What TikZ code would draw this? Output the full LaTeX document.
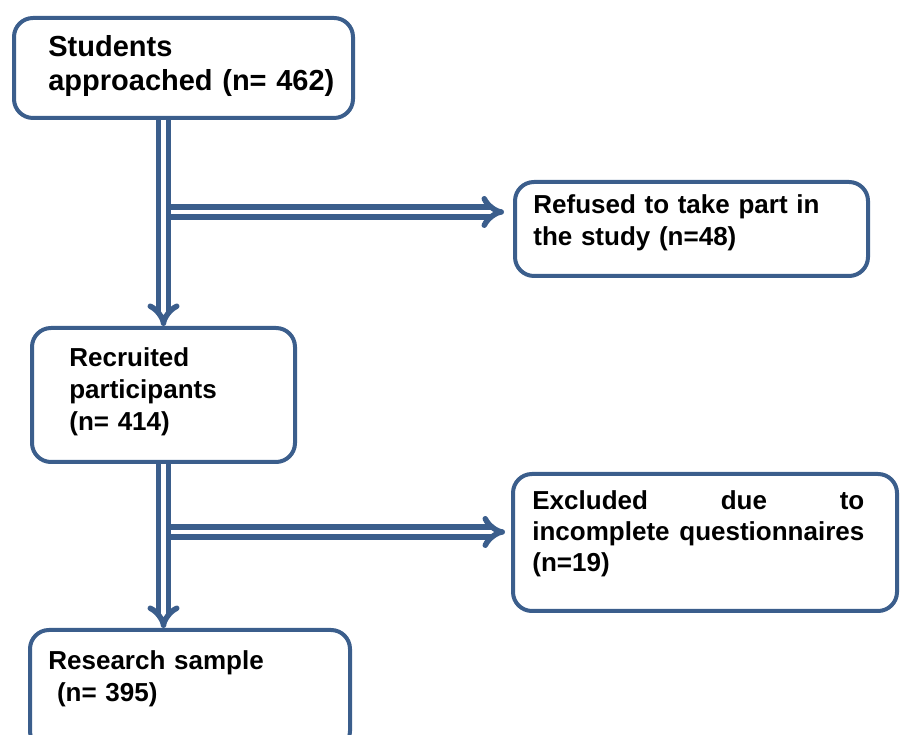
\documentclass[tikz,border=0pt]{standalone}
\usepackage{fontspec}
\setmainfont{Liberation Sans}
\usepackage{tikz}
\usetikzlibrary{arrows.meta}
\definecolor{flowblue}{RGB}{59,94,140}

\begin{document}
\begin{tikzpicture}
    \tikzstyle{box}=[draw=flowblue, line width=0.08cm, rounded corners=0.38cm, inner sep=0pt]
    \tikzstyle{txt}=[anchor=base west, inner sep=0pt, align=left, font=\bfseries\fontsize{14.8}{18.2}\selectfont]
    \tikzstyle{flow}=[draw=flowblue, line width=0.11cm, double=white, double distance=0.09cm, -{Implies}]

    \useasboundingbox (0, 0) rectangle (18.02, 14.7);

    % Boxes
	\node[box, minimum width=6.78cm, minimum height=2.0cm] (approached) at (3.67, 13.34) {};
	\node[box, minimum width=7.06cm, minimum height=1.88cm] (refused) at (13.83, 10.12) {};
	\node[box, minimum width=5.26cm, minimum height=2.68cm] (recruited) at (3.27, 6.80) {};
	\node[box, minimum width=7.68cm, minimum height=2.74cm] (excluded) at (14.10, 3.85) {};
	\node[box, minimum width=6.40cm, minimum height=2.4cm] (sample) at (3.80, 0.90) {};

	% Texts
	\node[txt, text width=6cm, font=\bfseries\fontsize{16.5}{19.3}\selectfont] (approachedtxt) at (0.96, 13.56) {Students\\approached (n= 462)};
	\node[txt, text width=6.4cm] (refusedtxt) at (10.66, 10.42) {Refused to take part in\\the study (n=48)};
	\node[txt, text width=4.4cm] (recruitedtxt) at (1.38, 7.36) {Recruited\\participants\\(n= 414)};
	\node[txt, text width=6.64cm, align=justify, font=\bfseries\fontsize{14.8}{17.6}\selectfont] (excludedtxt) at (10.64, 4.50) {Excluded due to\linebreak incomplete questionnaires\linebreak (n=19)};
	\node[txt, text width=5.6cm] (sampletxt) at (0.96, 1.30) {Research sample\\~(n= 395)};

	% Branch points
	\coordinate (split1) at (3.27, 10.46);
	\coordinate (split2) at (3.27, 4.06);

    % Arrows
	\draw[flow, shorten >=0.18cm] (split1) -- (split1 -| refused.west);
	\draw[flow, shorten >=0.12cm] (split2) -- (split2 -| excluded.west);
	\draw[flow] (recruited.north |- approached.south) -- (recruited.north);
	\draw[flow] (recruited.south) -- (recruited.south |- sample.north);
\end{tikzpicture}
\end{document}
